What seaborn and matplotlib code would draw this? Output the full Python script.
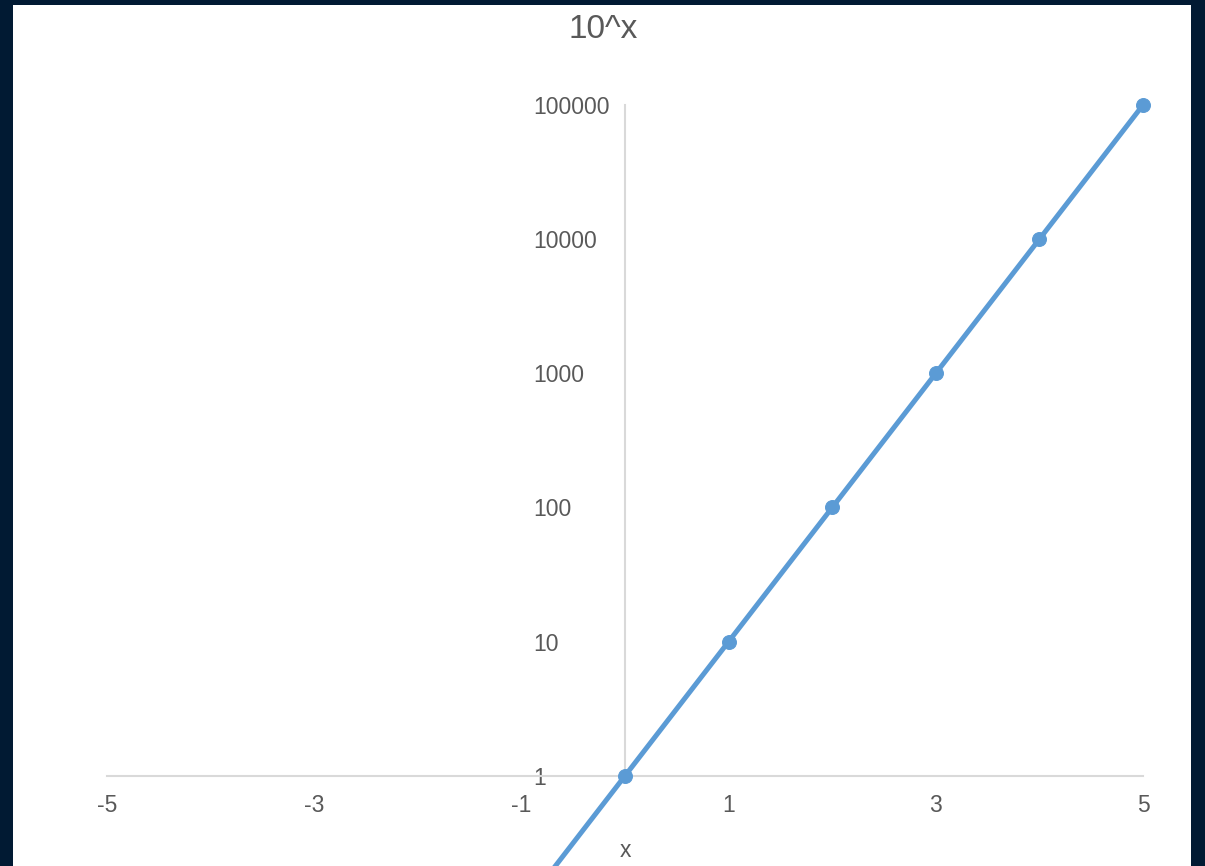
"""
10^x on a log y-axis, Excel-style crossing axes
"""
import numpy as np
import pandas as pd
import matplotlib
matplotlib.use('Agg')
import matplotlib.pyplot as plt
from matplotlib.patches import Rectangle
from matplotlib.ticker import NullLocator
import seaborn as sns

# Data
x_vals = [-5, -4, -3, -2, -1, 0, 1, 2, 3, 4, 5]
y_vals = [0.00001, 0.0001, 0.001, 0.01, 0.1, 1, 10, 100, 1000, 10000, 100000]
x_ticks = [-5, -3, -1, 1, 3, 5]
y_ticks = [1, 10, 100, 1000, 10000, 100000]
y_tick_labels = ['1', '10', '100', '1000', '10000', '100000']

df = pd.DataFrame({'x': x_vals, 'y': y_vals})

sns.set_style('white')
plt.rcParams['font.family'] = ['Liberation Sans', 'DejaVu Sans']

LINE_BLUE = '#5b9bd5'
AXIS_GRAY = '#d9d9d9'
TEXT_GRAY = '#595959'

fig = plt.figure(figsize=(12.05, 8.66), dpi=100, facecolor='#011a33')
# white slide panel inside the dark frame
fig.patches.append(Rectangle((13 / 1205, 0), (1191 - 13) / 1205, 1 - 5 / 866,
                             transform=fig.transFigure, facecolor='white',
                             edgecolor='none', zorder=-10))

ax = fig.add_axes([107 / 1205, -0.0508, 1036 / 1205, 0.92955])
ax.set_facecolor('none')
ax.set_zorder(5)

sns.lineplot(data=df, x='x', y='y', ax=ax, color=LINE_BLUE, linewidth=3.6,
             marker='o', markersize=10, markeredgecolor=LINE_BLUE)
for ln in ax.lines:
    ln.set_clip_on(False)  # keep the top marker whole

ax.set_yscale('log')
ax.set_xlim(-5, 5)
ax.set_ylim(0.1, 100000)
ax.yaxis.set_minor_locator(NullLocator())
ax.set_xticks(x_ticks)
ax.set_xticklabels([str(v) for v in x_ticks])
ax.set_yticks(y_ticks)
ax.set_yticklabels(y_tick_labels)

# axes cross at x=0 and y=1
ax.spines['left'].set_position(('data', 0))
ax.spines['bottom'].set_position(('data', 1))
ax.spines['left'].set_bounds(1, 100000)
for side in ['top', 'right']:
    ax.spines[side].set_visible(False)
for side in ['left', 'bottom']:
    ax.spines[side].set_color(AXIS_GRAY)
    ax.spines[side].set_linewidth(1.5)
    ax.spines[side].set_zorder(1)

ax.tick_params(axis='both', length=0, labelsize=16.5, labelcolor=TEXT_GRAY)
ax.tick_params(axis='x', pad=13)
ax.tick_params(axis='y', pad=66)
for lab in ax.get_yticklabels():
    lab.set_horizontalalignment('left')

ax.set_ylabel('')
ax.set_xlabel('x', fontsize=16.5, color=TEXT_GRAY, labelpad=16)

fig.text(603 / 1205, 1 - 29 / 866, '10^x', ha='center', va='center',
         fontsize=24, color=TEXT_GRAY)

fig.savefig('out.png', dpi=100, facecolor=fig.get_facecolor())
